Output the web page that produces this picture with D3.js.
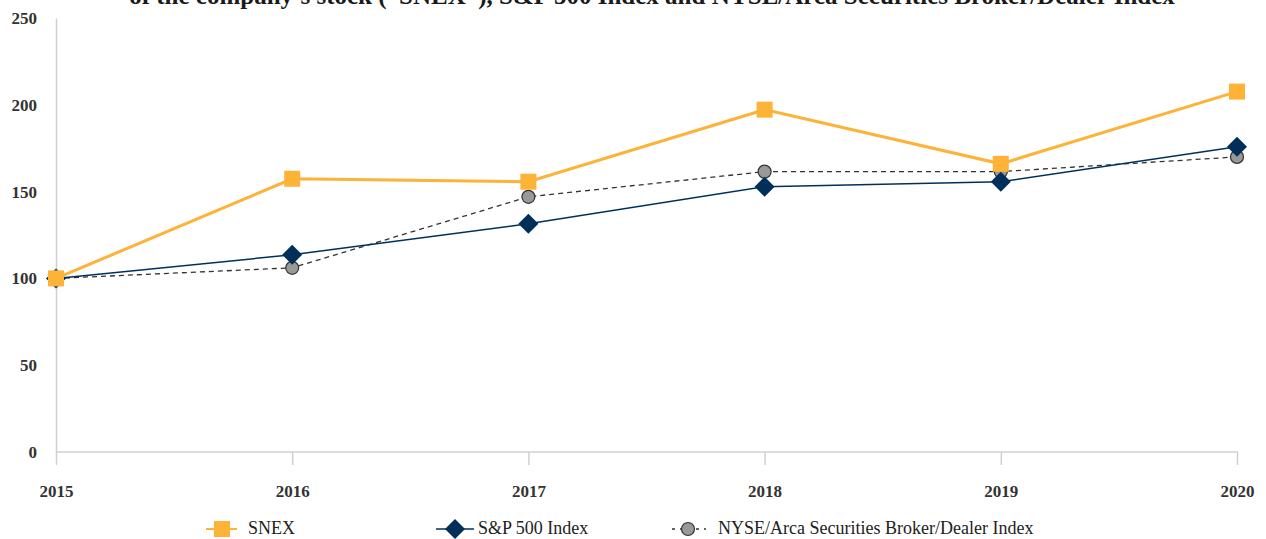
<!DOCTYPE html>
<html>
<head>
<meta charset="utf-8">
<script src="https://cdn.jsdelivr.net/npm/d3@7"></script>
<style>
  body { margin: 0; background: #fff; }
  svg { display: block; font-family: "Liberation Serif", "DejaVu Serif", serif; }
</style>
</head>
<body>
<svg id="chart"></svg>
<script>
// data
const years = [2015, 2016, 2017, 2018, 2019, 2020];
const snex = [100, 157.4, 155.7, 197.2, 166, 207.6];
const sp500 = [100, 113.6, 131.5, 152.8, 155.7, 175.9];
const nyseArca = [100, 106.1, 147, 161.5, 161.5, 170];
const yTicks = [0, 50, 100, 150, 200, 250];
const seriesNames = ["SNEX", "S&P 500 Index", "NYSE/Arca Securities Broker/Dealer Index"];
const title = "of the company\u2019s stock (\u201cSNEX\u201d), S&P 500 Index and NYSE/Arca Securities Broker/Dealer Index";

const width = 1266, height = 539;
const margin = { top: 18, right: 29, bottom: 87, left: 56 };

const svg = d3.select("#chart").attr("width", width).attr("height", height);

const x = d3.scalePoint().domain(years).range([margin.left, width - margin.right]);
const y = d3.scaleLinear().domain([0, 250]).range([height - margin.bottom, margin.top]);

// 标题 (上半部被裁掉)
svg.append("text")
    .attr("x", 652).attr("y", 4)
    .attr("text-anchor", "middle")
    .attr("font-size", 25).attr("font-weight", "bold")
    .attr("fill", "#1a1a1a")
    .text(title);

const axisColor = "#d0d0d0";

// y axis
const yAxis = svg.append("g")
    .attr("transform", `translate(${margin.left},0)`)
    .call(d3.axisLeft(y).tickValues(yTicks).tickSize(0).tickPadding(19));
yAxis.select(".domain").attr("stroke", axisColor).attr("stroke-width", 1.5);
yAxis.selectAll("text").attr("font-size", 17).attr("font-weight", "bold").attr("fill", "#333")
    .attr("font-family", "Liberation Serif");

// x axis
const xAxis = svg.append("g")
    .attr("transform", `translate(0,${y(0)})`)
    .call(d3.axisBottom(x).tickSize(13).tickPadding(20).tickFormat(d3.format("d")));
xAxis.select(".domain").attr("stroke", axisColor).attr("stroke-width", 1.5)
    .attr("d", `M${margin.left},0H${width - margin.right + 1}`);
xAxis.selectAll(".tick line").attr("stroke", axisColor).attr("stroke-width", 1.5);
xAxis.selectAll("text").attr("font-size", 17).attr("font-weight", "bold").attr("fill", "#333")
    .attr("font-family", "Liberation Serif");

const line = d3.line().x((d, i) => x(years[i])).y(d => y(d));

// NYSE dashed
svg.append("path").datum(nyseArca)
    .attr("fill", "none").attr("stroke", "#333").attr("stroke-width", 1.3)
    .attr("stroke-dasharray", "5,4").attr("d", line);
// S&P
svg.append("path").datum(sp500)
    .attr("fill", "none").attr("stroke", "#00305a").attr("stroke-width", 1.5).attr("d", line);
// SNEX
svg.append("path").datum(snex)
    .attr("fill", "none").attr("stroke", "#fdb238").attr("stroke-width", 3).attr("d", line);

// markers
svg.selectAll(".nyse-pt").data(nyseArca).enter().append("circle")
    .attr("cx", (d, i) => x(years[i])).attr("cy", d => y(d)).attr("r", 6.5)
    .attr("fill", "#999").attr("stroke", "#333").attr("stroke-width", 1.2);

svg.selectAll(".sp-pt").data(sp500).enter().append("path")
    .attr("transform", (d, i) => `translate(${x(years[i])},${y(d)})`)
    .attr("d", "M0,-10L10,0L0,10L-10,0Z")
    .attr("fill", "#00305a");

svg.selectAll(".snex-pt").data(snex).enter().append("rect")
    .attr("x", (d, i) => x(years[i]) - 8).attr("y", d => y(d) - 8)
    .attr("width", 16).attr("height", 16)
    .attr("fill", "#fdb238");

// legend
const ly = 529;
const lg = svg.append("g");
// SNEX
lg.append("line").attr("x1", 206).attr("x2", 237).attr("y1", ly).attr("y2", ly)
    .attr("stroke", "#fdb238").attr("stroke-width", 2);
lg.append("rect").attr("x", 214).attr("y", ly - 8).attr("width", 16).attr("height", 16).attr("fill", "#fdb238");
lg.append("text").attr("x", 248).attr("y", ly + 5).attr("font-size", 18).attr("fill", "#222").text(seriesNames[0]);
// S&P
lg.append("line").attr("x1", 436).attr("x2", 474).attr("y1", ly).attr("y2", ly)
    .attr("stroke", "#00305a").attr("stroke-width", 1.5);
lg.append("path").attr("transform", `translate(455,${ly})`).attr("d", "M0,-10L10,0L0,10L-10,0Z").attr("fill", "#00305a");
lg.append("text").attr("x", 478).attr("y", ly + 5).attr("font-size", 18).attr("fill", "#222").text(seriesNames[1]);
// NYSE
lg.append("line").attr("x1", 672).attr("x2", 706).attr("y1", ly).attr("y2", ly)
    .attr("stroke", "#333").attr("stroke-width", 1.3).attr("stroke-dasharray", "3,5");
lg.append("circle").attr("cx", 688).attr("cy", ly).attr("r", 6.5).attr("fill", "#999").attr("stroke", "#333").attr("stroke-width", 1.2);
lg.append("text").attr("x", 718).attr("y", ly + 5).attr("font-size", 18).attr("fill", "#222").text(seriesNames[2]);
</script>
</body>
</html>
